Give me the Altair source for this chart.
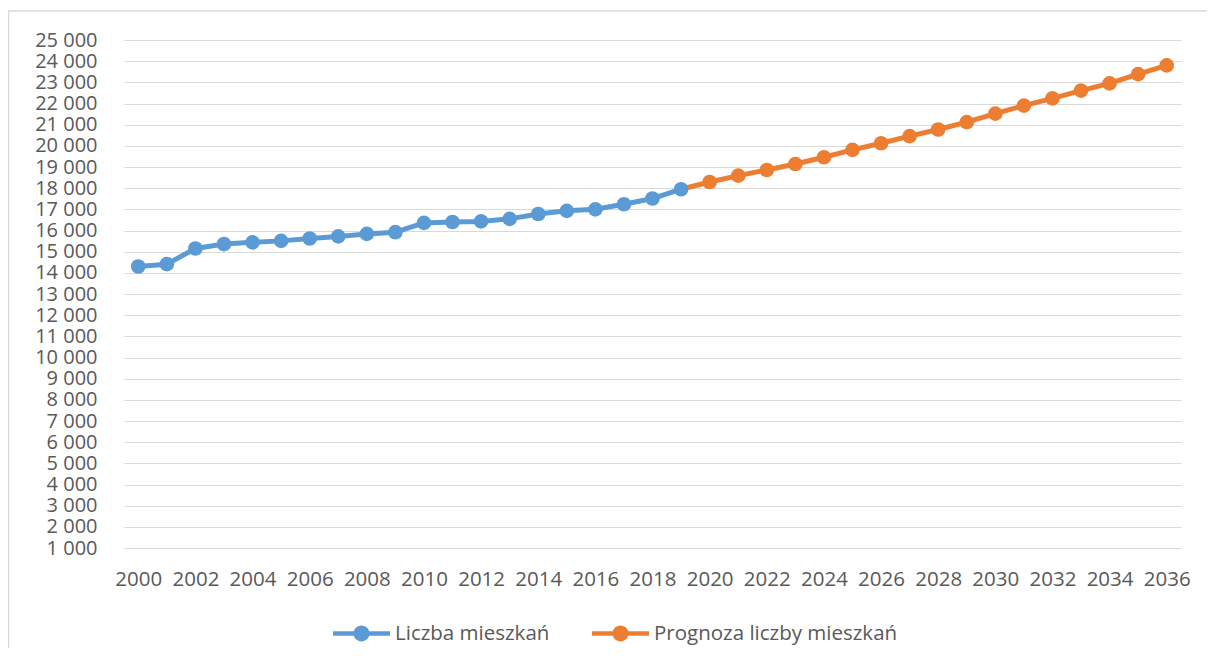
import altair as alt
import pandas as pd

# ---- data ----
hist_years = [2000, 2001, 2002, 2003, 2004, 2005, 2006, 2007, 2008, 2009,
              2010, 2011, 2012, 2013, 2014, 2015, 2016, 2017, 2018, 2019]
hist_values = [14300, 14410, 15150, 15360, 15440, 15510, 15620, 15720, 15840, 15920,
               16360, 16400, 16430, 16550, 16780, 16930, 17000, 17240, 17510, 17950]

fc_years = [2019, 2020, 2021, 2022, 2023, 2024, 2025, 2026, 2027, 2028,
            2029, 2030, 2031, 2032, 2033, 2034, 2035, 2036]
fc_values = [17950, 18290, 18590, 18860, 19140, 19460, 19810, 20120, 20460, 20770,
             21120, 21520, 21900, 22240, 22610, 22950, 23390, 23800]

series_names = ["Liczba mieszkań", "Prognoza liczby mieszkań"]
series_colors = ["#5B9BD5", "#ED7D31"]

all_years = hist_years + fc_years[1:]
x_label_years = [y for y in all_years if (y - 2000) % 2 == 0]
y_ticks = list(range(1000, 25001, 1000))

rows = []
for y, v in zip(hist_years, hist_values):
    rows.append({"rok": y, "wartosc": v, "seria": series_names[0], "marker": True})
for y, v in zip(fc_years, fc_values):
    rows.append({"rok": y, "wartosc": v, "seria": series_names[1], "marker": y != fc_years[0]})
df = pd.DataFrame(rows)

FONT = "Open Sans"
GRID = "#d9d9d9"
TEXT = "#595959"

W, H = 1057, 508

legend_symbol = ("M-1,-0.08L1,-0.08L1,0.08L-1,0.08Z "
                 "M-0.28,0A0.28,0.28 0 1,1 0.28,0A0.28,0.28 0 1,1 -0.28,0Z")

x_enc = alt.X(
    "rok:O",
    scale=alt.Scale(type="point", padding=0.5, domain=all_years),
    axis=alt.Axis(
        title=None, values=x_label_years, labelAngle=0, ticks=False,
        domain=True, domainColor=GRID, domainWidth=1,
        labelFont=FONT, labelFontSize=20.5, labelColor=TEXT, labelPadding=21,
        grid=False,
    ),
)
y_enc = alt.Y(
    "wartosc:Q",
    scale=alt.Scale(domain=[1000, 25000], nice=False, zero=False),
    axis=alt.Axis(
        title=None, values=y_ticks, ticks=False, domain=False,
        grid=True, gridColor=GRID, gridWidth=1,
        labelFont=FONT, labelFontSize=20, labelColor=TEXT, labelPadding=27,
        labelExpr="replace(format(datum.value, ','), ',', ' ')",
    ),
)
color_scale = alt.Scale(domain=series_names, range=series_colors)

border = alt.Chart(pd.DataFrame({"k": [0]})).mark_rect(
    fill=None, stroke=GRID, strokeWidth=1.5
).encode(
    x=alt.value(-115.5), x2=alt.value(W + 200),
    y=alt.value(-29), y2=alt.value(H + 300),
)

lines = alt.Chart(df).mark_line(strokeWidth=5, strokeCap="round", strokeJoin="round").encode(
    x=x_enc, y=y_enc,
    color=alt.Color("seria:N", scale=color_scale, legend=None),
    detail="seria:N",
)

points = alt.Chart(df).transform_filter("datum.marker").mark_point(
    filled=True, size=215, opacity=1, shape="circle"
).encode(
    x=x_enc, y=y_enc,
    color=alt.Color(
        "seria:N", scale=color_scale,
        legend=alt.Legend(
            title=None, orient="none", direction="horizontal",
            legendX=209, legendY=565, padding=0,
            symbolType=legend_symbol, symbolSize=3249, symbolStrokeWidth=0,
            symbolOpacity=1,
            labelFont=FONT, labelFontSize=20.5, labelColor=TEXT,
            labelOffset=5, columnPadding=42, labelLimit=400,
        ),
    ),
)

chart = alt.layer(border, lines, points).resolve_legend(
    color="independent"
).properties(
    width=W, height=H,
    autosize=alt.AutoSizeParams(type="none"),
    padding={"left": 116, "top": 32, "right": 26, "bottom": 100},
).configure_view(stroke=None)

chart.save("out.html", embed_options={"renderer": "svg", "actions": False})
